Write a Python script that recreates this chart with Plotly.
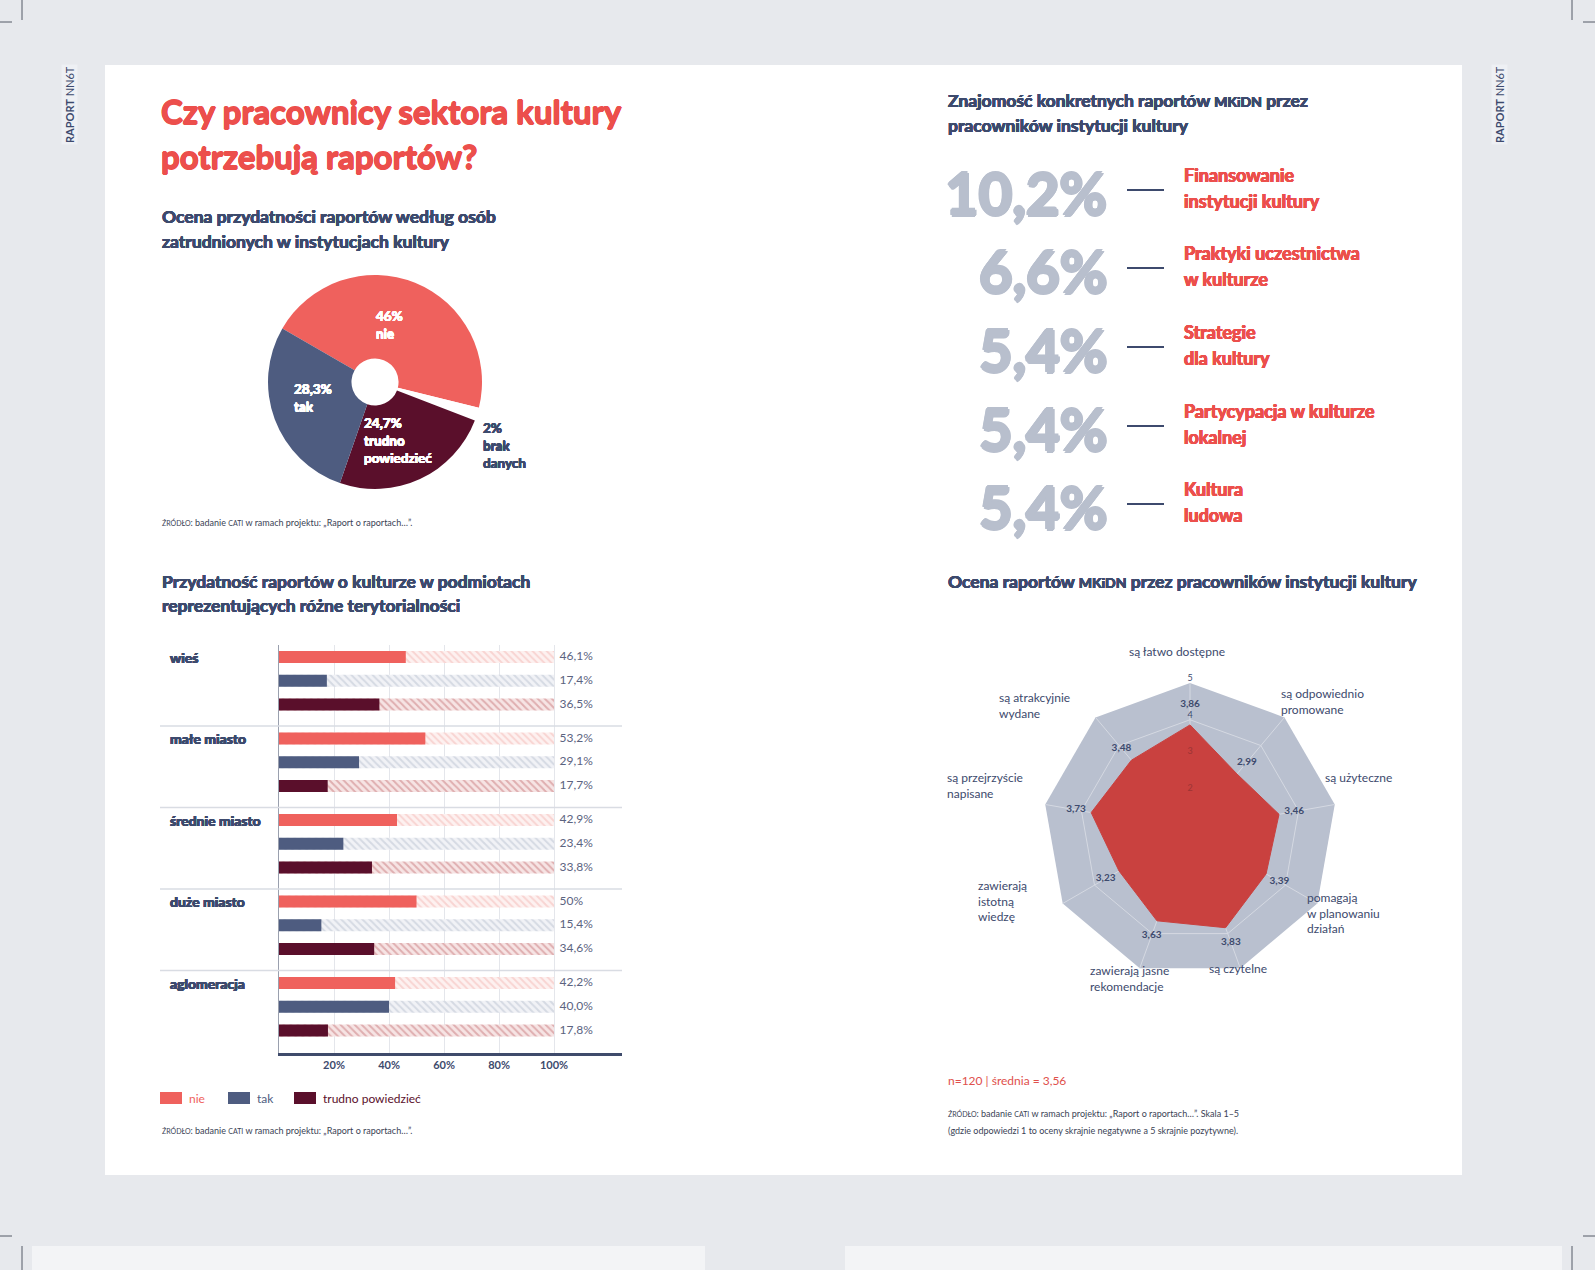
import plotly.graph_objects as go

W, H = 1595, 1270


def px(x):
    return x / W


def py(y):
    return 1 - y / H


FONT = "Lato"
NAVY = "#3d4a6d"
RED = "#ec4f4c"
C_NIE = "#ef615d"
C_TAK = "#4e5c80"
C_TRUDNO = "#5a0f2b"
GRAY_BIG = "#b8bfcd"

# ---------------- data ----------------
pie_labels = ["nie", "brak danych", "trudno powiedzieć", "tak"]
pie_values = [46.0, 2.0, 24.7, 28.3]
pie_pct_text = ["46%", "2%", "24,7%", "28,3%"]

groups = ["wieś", "małe miasto", "średnie miasto", "duże miasto", "aglomeracja"]
answers = ["nie", "tak", "trudno powiedzieć"]
nie_vals = [46.1, 53.2, 42.9, 50.0, 42.2]
tak_vals = [17.4, 29.1, 23.4, 15.4, 40.0]
trudno_vals = [36.5, 17.7, 33.8, 34.6, 17.8]
nie_text = ["46,1%", "53,2%", "42,9%", "50%", "42,2%"]
tak_text = ["17,4%", "29,1%", "23,4%", "15,4%", "40,0%"]
trudno_text = ["36,5%", "17,7%", "33,8%", "34,6%", "17,8%"]
x_tickvals = [20, 40, 60, 80, 100]
x_ticktext = ["20%", "40%", "60%", "80%", "100%"]

report_pct = ["10,2%", "6,6%", "5,4%", "5,4%", "5,4%"]
report_names = [
    ["Finansowanie", "instytucji kultury"],
    ["Praktyki uczestnictwa", "w kulturze"],
    ["Strategie", "dla kultury"],
    ["Partycypacja w kulturze", "lokalnej"],
    ["Kultura", "ludowa"],
]

radar_cats = [
    "są łatwo dostępne",
    "są odpowiednio promowane",
    "są użyteczne",
    "pomagają w planowaniu działań",
    "są czytelne",
    "zawierają jasne rekomendacje",
    "zawierają istotną wiedzę",
    "są przejrzyście napisane",
    "są atrakcyjnie wydane",
]
radar_vals = [3.86, 2.99, 3.46, 3.39, 3.83, 3.63, 3.23, 3.73, 3.48]
radar_text = ["3,86", "2,99", "3,46", "3,39", "3,83", "3,63", "3,23", "3,73", "3,48"]
radar_ticks = [1, 2, 3, 4, 5]

# ---------------- figure ----------------
fig = go.Figure()
shapes = []
anns = []


def heavy(color, a):
    if a <= 0:
        return None
    return (f"{a}px 0 0 {color}, -{a}px 0 0 {color}, 0 {a}px 0 {color}, 0 -{a}px 0 {color}, "
            f"{a * 0.7:.2f}px {a * 0.7:.2f}px 0 {color}, -{a * 0.7:.2f}px -{a * 0.7:.2f}px 0 {color}")


def ann(text, x, y, size=12, color=NAVY, xanchor="left", yanchor="middle", weight=400, align="left",
        thick=0, **kw):
    f = dict(family=FONT, size=size, color=color, weight=weight)
    sh = heavy(color, thick)
    if sh:
        f["shadow"] = sh
    d = dict(text=text, x=px(x), y=py(y), xref="paper", yref="paper", showarrow=False,
             xanchor=xanchor, yanchor=yanchor, align=align, font=f)
    d.update(kw)
    anns.append(d)


# background & panel
shapes.append(dict(type="rect", xref="paper", yref="paper", x0=0, x1=1, y0=0, y1=1,
                   fillcolor="#e7e9ed", line_width=0, layer="below"))
shapes.append(dict(type="rect", xref="paper", yref="paper", x0=px(105), x1=px(1462), y0=py(1175), y1=py(65),
                   fillcolor="white", line_width=0, layer="below"))
for x0, x1 in [(32, 705), (845, 1562)]:
    shapes.append(dict(type="rect", xref="paper", yref="paper", x0=px(x0), x1=px(x1), y0=py(1270), y1=py(1246),
                       fillcolor="#f3f4f6", line_width=0, layer="below"))
# crop marks
for (x0, y0, x1, y1) in [(22, 0, 22, 20), (0, 22, 12, 22), (1572, 0, 1572, 20), (1583, 22, 1595, 22),
                         (22, 1246, 22, 1270), (0, 1236, 12, 1236), (1572, 1246, 1572, 1270), (1583, 1236, 1595, 1236)]:
    shapes.append(dict(type="line", xref="paper", yref="paper", x0=px(x0), x1=px(x1), y0=py(y0), y1=py(y1),
                       line=dict(color="#555a66", width=1)))

# side labels
for sx in [70, 1500]:
    ann("<b>RAPORT</b> NN6T", sx, 105, size=11, color=NAVY, xanchor="center", textangle=-90,
        bgcolor="#eef0f4", align="center")

# ---------------- left top: title + pie ----------------
ann("Czy pracownicy sektora kultury", 159, 111, size=33, color=RED, weight=700, thick=0.6)
ann("potrzebują raportów?", 159, 156, size=33, color=RED, weight=700, thick=0.6)
ann("Ocena przydatności raportów według osób", 160, 217, size=17.5, weight=700, thick=0.3)
ann("zatrudnionych w instytucjach kultury", 160, 241, size=17.5, weight=700, thick=0.3)

fig.add_trace(go.Pie(
    labels=pie_labels, values=pie_values, sort=False, direction="clockwise", rotation=-60,
    hole=0.22, textinfo="none", hoverinfo="label+percent",
    marker=dict(colors=[C_NIE, "#ffffff", C_TRUDNO, C_TAK], line=dict(color="white", width=0)),
    domain=dict(x=[px(268), px(482)], y=[py(489), py(275)]), showlegend=False,
))
pie_pos = {"nie": (374, 325), "tak": (292, 398), "trudno powiedzieć": (362, 441), "brak danych": (481, 445)}
for lab, txt in zip(pie_labels, pie_pct_text):
    x, y = pie_pos[lab]
    col = NAVY if lab == "brak danych" else "white"
    ann(f"{txt}<br>{lab.replace(' ', '<br>')}", x, y, size=13.5, color=col, weight=700, thick=0.3)

SRC = ("<span style='font-size:7px'>ŹRÓDŁO</span>: badanie <span style='font-size:7px'>CATI</span> "
       "w ramach projektu: „Raport o raportach…”.")
ann(SRC, 160, 522, size=9, color="#3a3f55")

# ---------------- left bottom: bar chart ----------------
ann("Przydatność raportów o kulturze w podmiotach", 160, 581, size=17.5, weight=700, thick=0.3)
ann("reprezentujących różne terytorialności", 160, 606, size=17.5, weight=700, thick=0.3)

GS, RS, BW = 81.5, 23.8, 12
series = [
    (nie_vals, nie_text, C_NIE, "#fdf1f0", "#f4b8b4"),
    (tak_vals, tak_text, C_TAK, "#f1f2f6", "#bac1d0"),
    (trudno_vals, trudno_text, C_TRUDNO, "#f6e4e4", "#c8787c"),
]
for k, (vals, txts, col, bg, fg) in enumerate(series):
    ys = [i * GS + k * RS for i in range(len(groups))]
    fig.add_trace(go.Bar(
        x=[100] * len(vals), y=ys, orientation="h", width=BW, hoverinfo="skip", showlegend=False,
        marker=dict(color=bg, line_width=0,
                    pattern=dict(shape="\\", fgcolor=fg, size=5, solidity=0.4, fillmode="overlay")),
        xaxis="x", yaxis="y"))
    fig.add_trace(go.Bar(
        x=vals, y=ys, orientation="h", width=BW, marker=dict(color=col, line_width=0),
        name=answers[k], showlegend=False, xaxis="x", yaxis="y"))
    fig.add_trace(go.Scatter(
        x=[102] * len(vals), y=ys, mode="text", text=txts, textposition="middle right",
        textfont=dict(family=FONT, size=12, color="#5b6380"), cliponaxis=False,
        hoverinfo="skip", showlegend=False, xaxis="x", yaxis="y"))

for i, g in enumerate(groups):
    anns.append(dict(text=g, x=px(168), y=i * GS, xref="paper", yref="y", showarrow=False,
                     xanchor="left", yanchor="middle",
                     font=dict(family=FONT, size=14, color=NAVY, weight=700, shadow=heavy(NAVY, 0.4))))
    if i > 0:
        shapes.append(dict(type="line", xref="paper", yref="y", x0=px(160), x1=px(622),
                           y0=i * GS - 12.5, y1=i * GS - 12.5, line=dict(color="#d9dce3", width=1.5)))

# legend
leg = [(160, "nie", C_NIE), (228, "tak", C_TAK), (294, "trudno powiedzieć", C_TRUDNO)]
for x, lab, col in leg:
    shapes.append(dict(type="rect", xref="paper", yref="paper", x0=px(x), x1=px(x + 22), y0=py(1104), y1=py(1092),
                       fillcolor=col, line_width=0))
    ann(lab, x + 27, 1098, size=12, color=col)

ann(SRC, 160, 1130, size=9, color="#3a3f55")

# ---------------- right top: reports ----------------
ann("Znajomość konkretnych raportów <span style='font-size:14px'>MKiDN</span> przez", 946, 101, size=17.5,
    weight=700, thick=0.3)
ann("pracowników instytucji kultury", 946, 126, size=17.5, weight=700, thick=0.3)
rep_y = [190, 268, 347, 426, 504]
for yy, pct, names in zip(rep_y, report_pct, report_names):
    ann(pct, 1109, yy + 2, size=58, color=GRAY_BIG, xanchor="right", weight=700, thick=1.6)
    shapes.append(dict(type="line", xref="paper", yref="paper", x0=px(1127), x1=px(1164), y0=py(yy), y1=py(yy),
                       line=dict(color=NAVY, width=2)))
    ann(names[0], 1182, yy - 15, size=18, color=RED, weight=700, thick=0.4)
    ann(names[1], 1182, yy + 11, size=18, color=RED, weight=700, thick=0.4)

# ---------------- right bottom: radar ----------------
ann("Ocena raportów <span style='font-size:14px'>MKiDN</span> przez pracowników instytucji kultury", 946, 581,
    size=17.5, weight=700, thick=0.3)

fig.add_trace(go.Scatterpolar(
    r=radar_vals + radar_vals[:1], theta=radar_cats + radar_cats[:1], mode="lines", fill="toself",
    fillcolor="#c9413f", line=dict(color="#c9413f", width=1), showlegend=False, subplot="polar"))
fig.add_trace(go.Scatterpolar(
    r=[v + 0.42 for v in radar_vals], theta=radar_cats, mode="text", text=radar_text,
    textposition=["top center"] + ["middle center"] * (len(radar_vals) - 1),
    textfont=dict(family=FONT, size=10, color=NAVY, weight=700), cliponaxis=False, showlegend=False,
    hoverinfo="skip", subplot="polar"))
fig.add_trace(go.Scatterpolar(
    r=radar_ticks, theta=[radar_cats[0]] * len(radar_ticks), mode="text", text=[str(t) for t in radar_ticks],
    textposition="top center",
    textfont=dict(family=FONT, size=9, color=["#9c3434", "#9c3434", "#9c3434", NAVY, NAVY]),
    cliponaxis=False, showlegend=False, hoverinfo="skip", subplot="polar"))

radar_lab = [
    ("są łatwo dostępne", 1177, 651, "center"),
    ("są odpowiednio<br>promowane", 1279, 702, "left"),
    ("są użyteczne", 1323, 777, "left"),
    ("pomagają<br>w planowaniu<br>działań", 1305, 913, "left"),
    ("są czytelne", 1207, 968, "left"),
    ("zawierają jasne<br>rekomendacje", 1088, 978, "left"),
    ("zawierają<br>istotną<br>wiedzę", 976, 901, "left"),
    ("są przejrzyście<br>napisane", 945, 785, "left"),
    ("są atrakcyjnie<br>wydane", 997, 705, "left"),
]
for t, x, y, xa in radar_lab:
    ann(t, x, y, size=12, color=NAVY, xanchor=xa, align="left" if xa == "left" else "center")

ann("n=120 | średnia = 3,56", 946, 1080, size=12, color="#e0504c")
ann("<span style='font-size:7px'>ŹRÓDŁO</span>: badanie <span style='font-size:7px'>CATI</span> "
    "w ramach projektu: „Raport o raportach…”. Skala 1–5", 946, 1113, size=9, color="#3a3f55")
ann("(gdzie odpowiedzi 1 to oceny skrajnie negatywne a 5 skrajnie pozytywne).", 946, 1130, size=9, color="#3a3f55")

fig.update_layout(
    width=W, height=H, autosize=False, margin=dict(l=0, r=0, t=0, b=0),
    paper_bgcolor="#e7e9ed", plot_bgcolor="rgba(0,0,0,0)",
    font=dict(family=FONT, color=NAVY),
    barmode="overlay", shapes=shapes, annotations=anns,
    xaxis=dict(domain=[px(279), px(622)], range=[0, 124.7], tickvals=x_tickvals, ticktext=x_ticktext,
               tickfont=dict(family=FONT, size=11, color=NAVY, weight=700), showgrid=True,
               gridcolor="#e4e6eb", gridwidth=1, zeroline=False, showline=True, linecolor="#3f4b6b",
               linewidth=3, ticks="", fixedrange=True),
    yaxis=dict(domain=[py(1053), py(645)], range=[396, -12], showticklabels=False, showgrid=False,
               zeroline=False, showline=True, linecolor="#9aa0ae", linewidth=1, ticks="", fixedrange=True),
    polar=dict(
        domain=dict(x=[px(1043), px(1337)], y=[py(977), py(683)]),
        bgcolor="#b9c0cf", gridshape="linear",
        radialaxis=dict(range=[1, 5], tickvals=[2, 3, 4], showticklabels=False, gridcolor="#d5d9e2",
                        showline=False, ticks=""),
        angularaxis=dict(type="category", categoryarray=radar_cats, rotation=90, direction="clockwise",
                         showticklabels=False, gridcolor="#d5d9e2", showline=False, ticks=""),
    ),
)

fig.write_html("out.html", config={"displayModeBar": False},
               post_script="document.body.style.margin='0px';document.body.style.overflow='hidden';")
